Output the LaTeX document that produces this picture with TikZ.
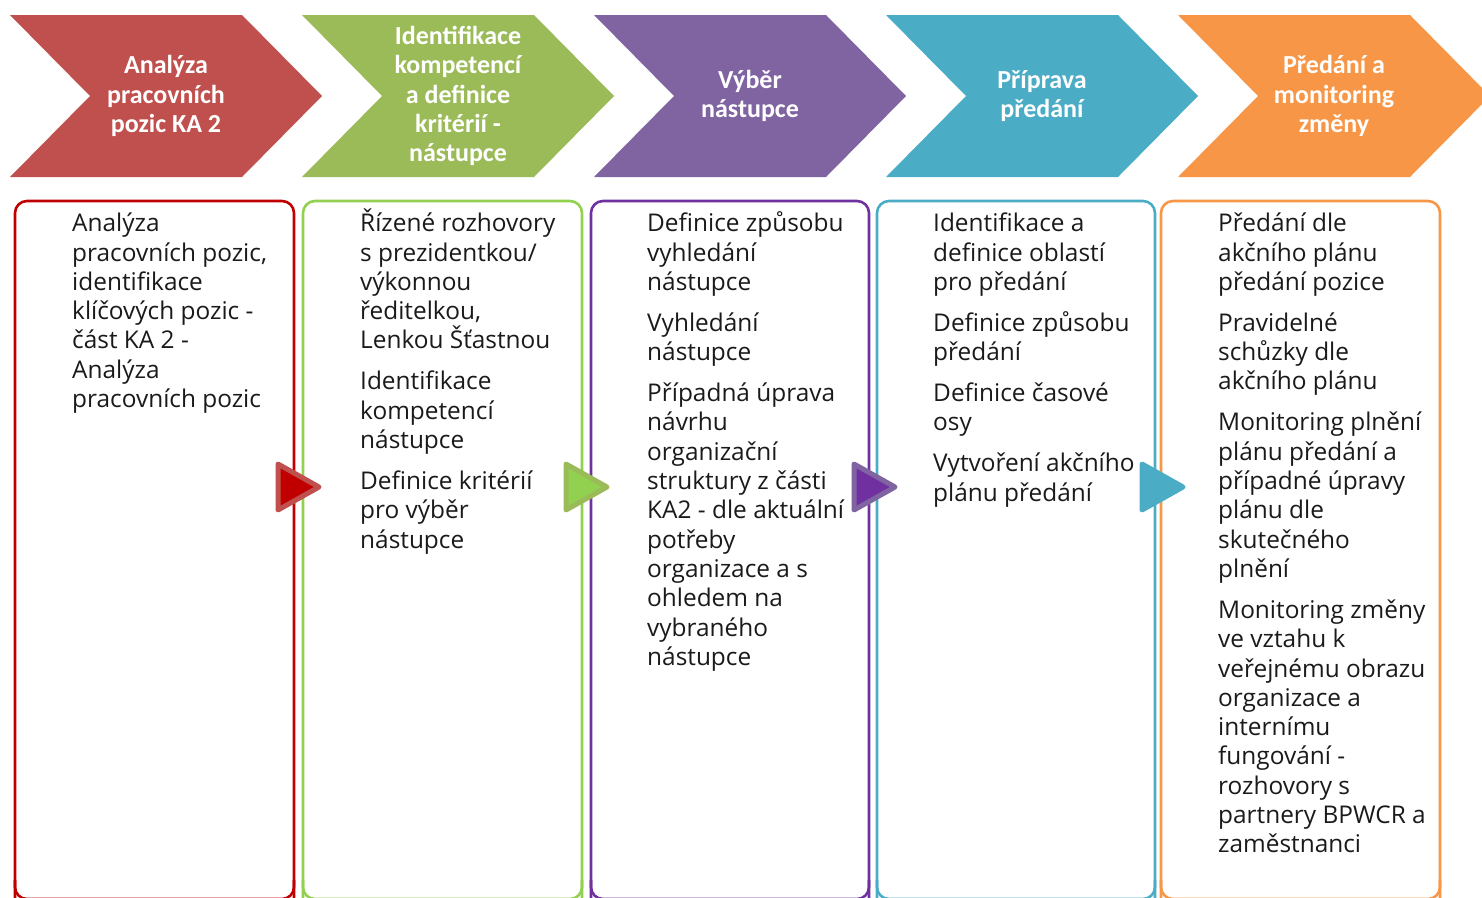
\documentclass[tikz,border=0pt]{standalone}
\usepackage{fontspec}
\setmainfont{Open Sans}
\newfontfamily\headfont{Carlito}
\definecolor{c1}{HTML}{C0504D}
\definecolor{c2}{HTML}{9BBB59}
\definecolor{c3}{HTML}{8064A2}
\definecolor{c4}{HTML}{4BACC6}
\definecolor{c5}{HTML}{F79646}
\definecolor{b1}{HTML}{C00000}
\definecolor{b2}{HTML}{92D050}
\definecolor{b3}{HTML}{7030A0}
\definecolor{b4}{HTML}{4BACC6}
\definecolor{b5}{HTML}{F79646}
\definecolor{ink}{HTML}{1A1A1A}
\newcommand{\firstline}{\rule{0pt}{26pt}}
\tikzset{
  frame/.style={draw, line width=2.6pt, rounded corners=12pt},
  body/.style={anchor=north west, align=left, inner sep=0pt, text=ink,
    font=\fontsize{24.4}{29.3}\selectfont},
  head/.style={align=center, inner sep=0pt, text=white,
    font=\headfont\bfseries\fontsize{26}{29.3}\selectfont},
  tri/.style={line width=5pt, line join=round}
}
\newcommand{\chevron}[2]{%
  \fill[#2] (#1,15) -- ++(232,0) -- ++(80,81) -- ++(-80,81) -- ++(-232,0) -- ++(80,-81) -- cycle;}
\newcommand{\pointer}[3]{%
  \filldraw[tri, draw=#2, fill=#3] (#1,464) -- (#1,510) -- ++(41,-23) -- cycle;}
\begin{document}
\begin{tikzpicture}[x=1pt,y=-1pt]
\useasboundingbox (0,0) rectangle (1482,897);
\clip (0,0) rectangle (1482,897);
% phase chevrons
\chevron{10}{c1}
\chevron{302}{c2}
\chevron{594}{c3}
\chevron{886}{c4}
\chevron{1178}{c5}
\node[head] (h1) at (166,96) {Analýza\\pracovních\\pozic KA 2};
\node[head] (h2) at (458,96) {Identifikace\\kompetencí\\a definice\\kritérií -\\nástupce};
\node[head] (h3) at (750,96) {Výběr\\nástupce};
\node[head] (h4) at (1042,96) {Příprava\\předání};
\node[head] (h5) at (1334,96) {Předání a\\monitoring\\změny};
% activity frames
\draw[frame, draw=b1] (15,920) -- (15,201) -- (294,201) -- (294,920);
\draw[frame, draw=b2] (303,920) -- (303,201) -- (582,201) -- (582,920);
\draw[frame, draw=b3] (591,920) -- (591,201) -- (869,201) -- (869,920);
\draw[frame, draw=b4] (877,920) -- (877,201) -- (1155,201) -- (1155,920);
\draw[frame, draw=b5] (1161,920) -- (1161,201) -- (1440,201) -- (1440,920);
\draw[frame, draw=b1] (15,880) -- (15,899) -- (294,899) -- (294,880);
\draw[frame, draw=b2] (303,880) -- (303,899) -- (582,899) -- (582,880);
\draw[frame, draw=b3] (591,880) -- (591,899) -- (869,899) -- (869,880);
\draw[frame, draw=b4] (877,880) -- (877,899) -- (1155,899) -- (1155,880);
\draw[frame, draw=b5] (1161,880) -- (1161,899) -- (1440,899) -- (1440,880);
% frame texts
\node[body] (t1) at (72,205.5) {\firstline Analýza\\pracovních pozic,\\identifikace\\klíčových pozic -\\část KA 2 -\\Analýza\\pracovních pozic};
\node[body] (t2) at (360,205.5) {\firstline Řízené rozhovory\\s prezidentkou/\\výkonnou\\ředitelkou,\\Lenkou Šťastnou\\[11.7pt]Identifikace\\kompetencí\\nástupce\\[11.7pt]Definice kritérií\\pro výběr\\nástupce};
\node[body] (t3) at (647,205.5) {\firstline Definice způsobu\\vyhledání\\nástupce\\[11.7pt]Vyhledání\\nástupce\\[11.7pt]Případná úprava\\návrhu\\organizační\\struktury z části\\KA2 - dle aktuální\\potřeby\\organizace a s\\ohledem na\\vybraného\\nástupce};
\node[body] (t4) at (933,205.5) {\firstline Identifikace a\\definice oblastí\\pro předání\\[11.7pt]Definice způsobu\\předání\\[11.7pt]Definice časové\\osy\\[11.7pt]Vytvoření akčního\\plánu předání};
\node[body] (t5) at (1218,205.5) {\firstline Předání dle\\akčního plánu\\předání pozice\\[11.7pt]Pravidelné\\schůzky dle\\akčního plánu\\[11.7pt]Monitoring plnění\\plánu předání a\\případné úpravy\\plánu dle\\skutečného\\plnění\\[11.7pt]Monitoring změny\\ve vztahu k\\veřejnému obrazu\\organizace a\\internímu\\fungování -\\rozhovory s\\partnery BPWCR a\\zaměstnanci};
% step pointers between frames
\pointer{278}{c1}{b1}
\pointer{566}{c2}{b2}
\pointer{854}{c3}{b3}
\pointer{1142}{c4}{b4}
\end{tikzpicture}
\end{document}
